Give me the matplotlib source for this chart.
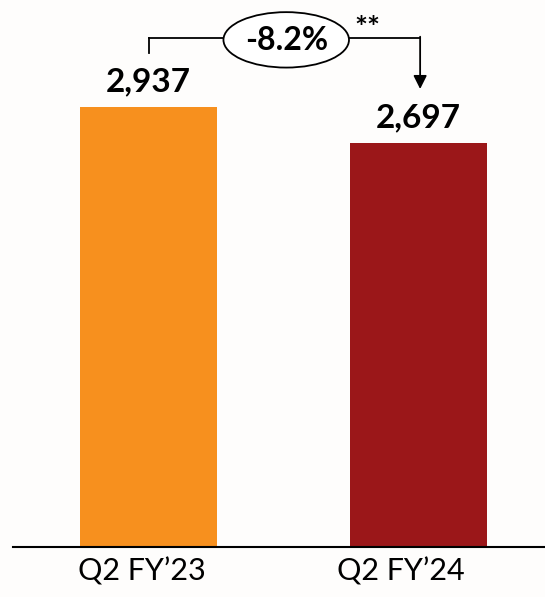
import matplotlib
matplotlib.use("Agg")
import matplotlib.pyplot as plt
from matplotlib.patches import Ellipse

# Data
quarters = ["Q2 FY\u201923", "Q2 FY\u201924"]
values = [2937, 2697]
bar_colors = ["#F7901E", "#9B1719"]
change_label = "-8.2%"

plt.rcParams['font.family'] = ['Lato', 'DejaVu Sans']

fig = plt.figure(figsize=(5.45, 5.97), dpi=100)
fig.patch.set_facecolor("#fefdfc")
ax = fig.add_axes([13 / 545, 50 / 597, 532 / 545, 547 / 597])
ax.set_facecolor("none")

x = list(range(len(values)))
ax.bar(x, values, width=0.507, color=bar_colors)
ax.set_xlim(-0.502, 1.4685)
ax.set_ylim(0, 3651)

for s in ["top", "right", "left"]:
    ax.spines[s].set_visible(False)
ax.spines["bottom"].set_linewidth(1.5)
ax.set_yticks([])
ax.set_xticks([])

# category labels (slightly left of bar centres, like the original)
label_shift = [-0.026, -0.065]
for xi, q, sh in zip(x, quarters, label_shift):
    ax.text(xi + sh, -70, q, ha="center", va="top", fontsize=22)

# value labels
for xi, v in zip(x, values):
    ax.text(xi, v + 70, f"{v:,}", ha="center", va="bottom",
            fontsize=24, fontweight="bold")

# change bracket
y_br = 3400
ax.plot([0, 0], [values[0] + 361, y_br], color="black", lw=1.3)
ax.plot([0, 0.28], [y_br, y_br], color="black", lw=1.3)
ax.plot([0.74, 1.006], [y_br, y_br], color="black", lw=1.3)
ax.annotate("", xy=(1.006, values[1] + 360), xytext=(1.006, y_br + 6),
            arrowprops=dict(arrowstyle="-|>", color="black", lw=1.3,
                            mutation_scale=20, shrinkA=0, shrinkB=0))
ax.add_patch(Ellipse((0.51, 3385), width=0.465, height=370,
                     facecolor="white", edgecolor="black", lw=1.3, zorder=3))
ax.text(0.51, 3380, change_label, ha="center", va="center",
        fontsize=23, fontweight="bold", zorder=4)
ax.text(0.81, 3460, "**", ha="center", va="center",
        fontsize=22, fontweight="bold")

fig.savefig("out.png", dpi=100)
